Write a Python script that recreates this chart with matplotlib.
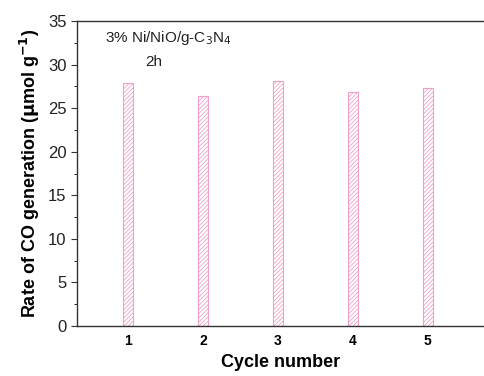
import matplotlib
matplotlib.use("Agg")
import matplotlib.pyplot as plt
from matplotlib.ticker import MultipleLocator

plt.rcParams['font.family'] = ['Liberation Sans', 'DejaVu Sans']
plt.rcParams['hatch.linewidth'] = 0.6

cycles = [1, 2, 3, 4, 5]
rates = [27.9, 26.4, 28.1, 26.9, 27.3]
tick_labels = ['1', '2', '3', '4', '5']

fig = plt.figure(figsize=(4.84, 3.76), dpi=100)
ax = fig.add_axes([0.159, 0.133, 0.841, 0.811])

ax.bar(cycles, rates, width=0.14, facecolor='white', edgecolor='#f0a0c8',
       hatch='////////', linewidth=0.8)

ax.set_xlim(0.32, 5.75)
ax.set_ylim(0, 35)
ax.set_xticks(cycles)
ax.set_xticklabels(tick_labels, fontweight='bold', fontsize=10)
ax.tick_params(axis='x', length=0, pad=6)
ax.yaxis.set_major_locator(MultipleLocator(5))
ax.yaxis.set_minor_locator(MultipleLocator(2.5))
ax.tick_params(axis='y', which='major', direction='out', length=4, labelsize=12, colors='#333333')
ax.tick_params(axis='y', which='minor', direction='out', length=2)
for lbl in ax.get_yticklabels():
    lbl.set_color('#222222')

ax.spines['right'].set_visible(False)
for s in ['left', 'bottom', 'top']:
    ax.spines[s].set_linewidth(1.0)
    ax.spines[s].set_color('#333333')

ax.set_xlabel('Cycle number', fontsize=13, fontweight='bold', labelpad=4)
ax.set_ylabel(r'Rate of CO generation ($\mathbf{\mu}$mol g$^{\mathbf{-1}}$)',
              fontsize=13, fontweight='bold', labelpad=4)

ax.text(0.069, 0.944, r'3% Ni/NiO/g-C$_3$N$_4$', transform=ax.transAxes,
        fontsize=11, ha='left', va='center', color='#222222')
ax.text(0.167, 0.866, '2h', transform=ax.transAxes,
        fontsize=11, ha='left', va='center', color='#222222')

fig.savefig('out.png', dpi=100)
